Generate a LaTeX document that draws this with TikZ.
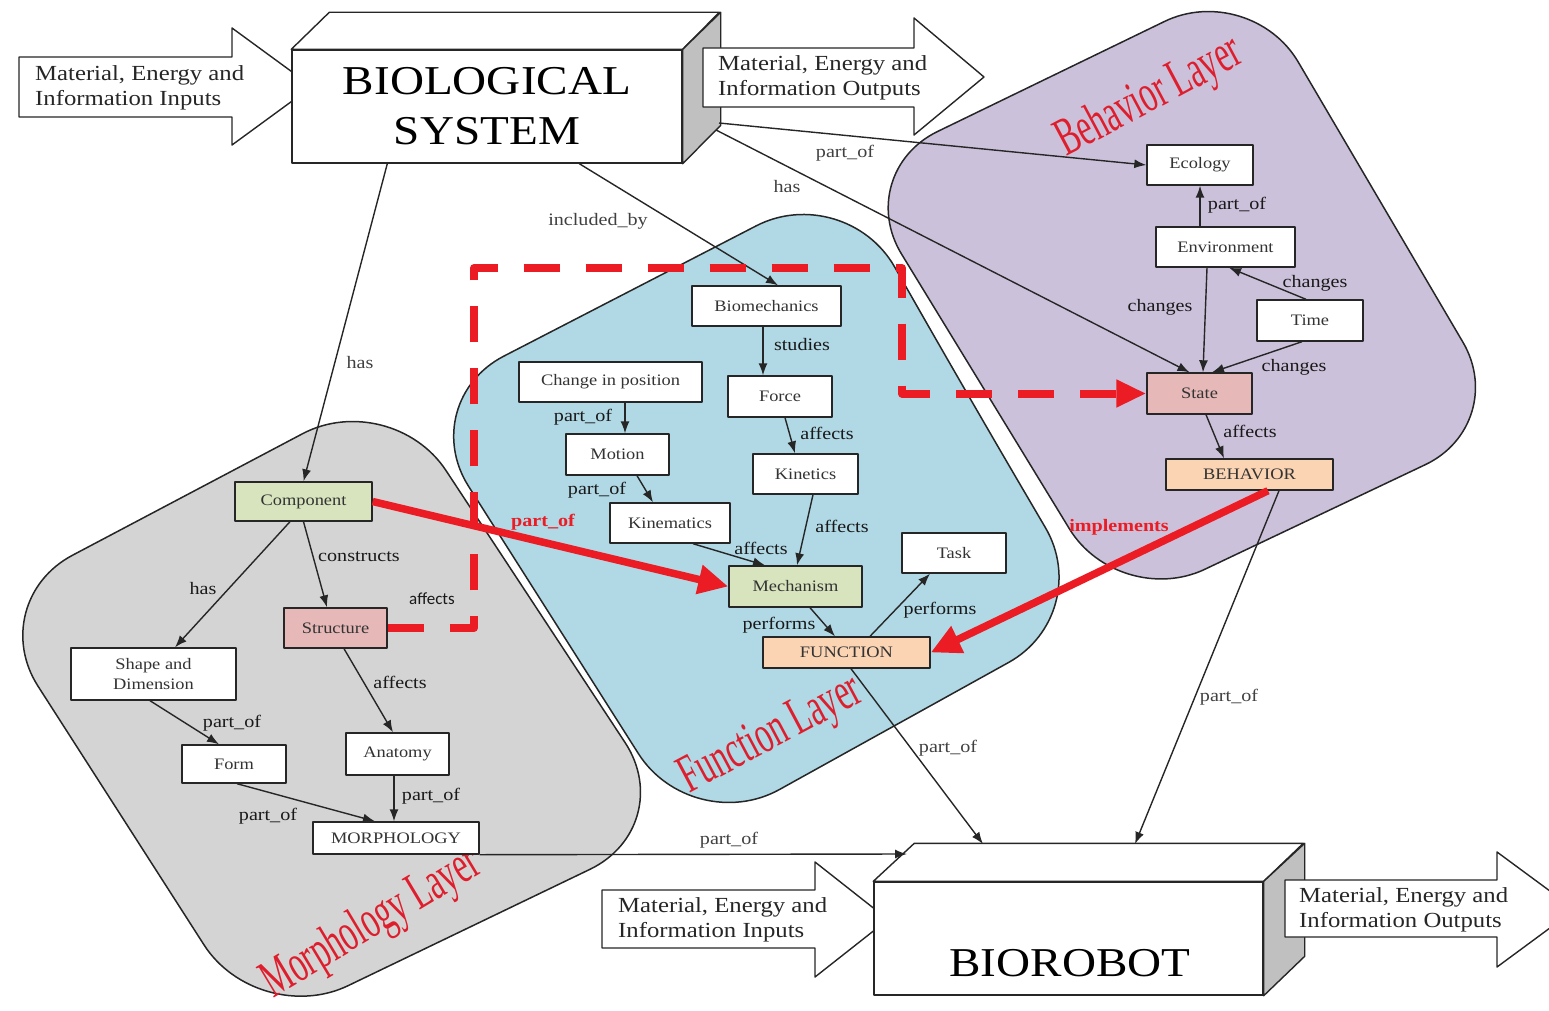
\documentclass[tikz,border=0pt]{standalone}
\usepackage{fontspec}
\setmainfont{Liberation Serif}[FakeStretch=1.15]
\newfontfamily\layerfont{Liberation Serif}
\newfontfamily\calibrifont{Carlito}
\usetikzlibrary{arrows.meta}

\definecolor{laygray}{RGB}{212,212,212}
\definecolor{layblue}{RGB}{176,216,229}
\definecolor{laypurple}{RGB}{204,193,218}
\definecolor{fillgreen}{RGB}{215,228,189}
\definecolor{fillpink}{RGB}{230,185,184}
\definecolor{fillpeach}{RGB}{251,212,180}
\definecolor{redc}{RGB}{236,28,36}
\definecolor{laylbl}{RGB}{222,30,45}
\definecolor{sidegray}{RGB}{192,192,192}

% condensed red caption of a layer
\newcommand{\layercaption}[1]{\scalebox{0.6}[1]{#1}}

\begin{document}
\begin{tikzpicture}[x=1pt,y=-1pt,line join=round,
  layer/.style={draw=black!85,line width=1.5pt},
  box/.style={draw=black!85,line width=1.4pt,fill=white,inner sep=0pt,
    font=\fontsize{16}{20}\selectfont,text=black!80,align=center},
  lbl/.style={font=\fontsize{17.5}{20}\selectfont,text=black!90,inner sep=1pt},
  olbl/.style={lbl,text=black!75},
  redlbl/.style={font=\bfseries\fontsize{17.5}{20}\selectfont,text=redc,inner sep=1pt},
  arr/.style={draw=black!85,line width=1.4pt,-{Latex[length=12pt,width=9pt]}},
  redarr/.style={draw=redc,line width=7.5pt,-{Triangle[length=30pt,width=28pt]}},
  reddash/.style={draw=redc,line width=8pt,dash pattern=on 36pt off 26pt,
    -{Triangle[length=30pt,width=26pt]}},
  blockarrow/.style={draw=black!85,line width=1.4pt,fill=white},
  blocktext/.style={font=\fontsize{21.5}{25}\selectfont,align=left,anchor=west,
    inner sep=0pt,text=black!85},
  bigbox/.style={draw=black!85,line width=1.4pt,fill=white,inner sep=0pt},
  sideface/.style={draw=black!85,line width=1.4pt,fill=sidegray},
  layerlbl/.style={font=\layerfont\fontsize{54}{54}\selectfont,text=laylbl,inner sep=0pt}
]
\useasboundingbox (0,0) rectangle (1549,1011);

% ---------------- layers ----------------
\draw[layer,fill=laygray,rounded corners=100pt]
  (535.5,606.5) -- (391,387) -- (-16,602) -- (258,1029) -- (680,826) -- cycle;
\draw[layer,fill=layblue,rounded corners=100pt]
  (970,399) -- (845,180) -- (415,402) -- (692,838) -- (1096,614) -- cycle;
\draw[layer,fill=laypurple,rounded corners=95pt]
  (1380.5,202) -- (1250,-20) -- (852,173) -- (1119,610) -- (1511,424) -- cycle;

\node[layerlbl,rotate=31] (morphLayer) at (372,924) {\layercaption{Morphology Layer}};
\node[layerlbl,rotate=28] (funLayer) at (772,736) {\layercaption{Function Layer}};
\node[layerlbl,rotate=28] (behLayer) at (1150,98) {\layercaption{Behavior Layer}};

% ---------------- biological system ----------------
\draw[blockarrow] (19,57) -- (232,57) -- (232,28) -- (312,86.5) -- (232,145)
  -- (232,117) -- (19,117) -- cycle;
\node[blocktext] (inBioText) at (35,88) {Material, Energy and\\Information Inputs};

\node[bigbox,minimum width=390pt,minimum height=113pt,
  font=\fontsize{41}{50}\selectfont,align=center] (bio) at (487,106.5)
  {BIOLOGICAL\\SYSTEM};
\draw[bigbox] (bio.north west) -- ++(38,-37) -- ++(390,0) -- (bio.north east) -- cycle;
\draw[sideface] (bio.north east) -- ++(38,-37) -- ++(0,113) -- (bio.south east) -- cycle;

\draw[blockarrow] (703,48) -- (914,48) -- (914,18) -- (984,77) -- (914,135)
  -- (914,107) -- (703,107) -- cycle;
\node[blocktext] (outBioText) at (718,78) {Material, Energy and\\Information Outputs};

% ---------------- biorobot ----------------
\draw[blockarrow] (602,890) -- (815,890) -- (815,862) -- (888,919.5) -- (815,977)
  -- (815,948) -- (602,948) -- cycle;
\node[blocktext] (inRobText) at (618,920) {Material, Energy and\\Information Inputs};

\node[bigbox,minimum width=389pt,minimum height=113pt] (robot) at (1068.5,938.5) {};
\draw[bigbox] (robot.north west) -- ++(41,-38) -- ++(389,0) -- (robot.north east) -- cycle;
\draw[sideface] (robot.north east) -- ++(41,-38) -- ++(0,113) -- (robot.south east) -- cycle;
\node[font=\fontsize{41}{50}\selectfont,inner sep=0pt] (robotText) at (1070,963) {BIOROBOT};

\draw[blockarrow] (1285,880) -- (1497,880) -- (1497,852) -- (1575,909.5) -- (1497,967)
  -- (1497,937) -- (1285,937) -- cycle;
\node[blocktext] (outRobText) at (1299,910) {Material, Energy and\\Information Outputs};

% ---------------- behavior layer nodes ----------------
\node[box,minimum width=106pt,minimum height=40pt] (eco) at (1200,165) {Ecology};
\node[box,minimum width=139pt,minimum height=40pt] (env) at (1225.5,247) {Environment};
\node[box,minimum width=106pt,minimum height=41pt] (time) at (1310,320.5) {Time};
\node[box,fill=fillpink,minimum width=105pt,minimum height=41pt] (state) at (1199.5,393.5) {State};
\node[box,fill=fillpeach,minimum width=167pt,minimum height=31pt] (behav) at (1249.5,474.5) {BEHAVIOR};

% ---------------- function layer nodes ----------------
\node[box,minimum width=149pt,minimum height=40pt] (biomech) at (766.5,306) {Biomechanics};
\node[box,minimum width=183pt,minimum height=40pt] (change) at (610.5,382) {Change in position};
\node[box,minimum width=104pt,minimum height=41pt] (force) at (780,396.5) {Force};
\node[box,minimum width=103pt,minimum height=41pt] (motion) at (617.5,454.5) {Motion};
\node[box,minimum width=105pt,minimum height=40pt] (kinetics) at (805.5,474) {Kinetics};
\node[box,minimum width=120pt,minimum height=40pt] (kinem) at (670,523) {Kinematics};
\node[box,fill=fillgreen,minimum width=133pt,minimum height=41pt] (mech) at (795.5,586.5) {Mechanism};
\node[box,minimum width=104pt,minimum height=40pt] (task) at (954,553) {Task};
\node[box,fill=fillpeach,minimum width=167pt,minimum height=31pt] (func) at (846.5,652.5) {FUNCTION};

% ---------------- morphology layer nodes ----------------
\node[box,fill=fillgreen,minimum width=137pt,minimum height=39pt] (comp) at (303.5,501.5) {Component};
\node[box,fill=fillpink,minimum width=103pt,minimum height=40pt] (struct) at (335.5,628) {Structure};
\node[box,minimum width=165pt,minimum height=52pt] (shape) at (153.5,674) {Shape and\\Dimension};
\node[box,minimum width=104pt,minimum height=38pt] (form) at (234,764) {Form};
\node[box,minimum width=103pt,minimum height=42pt] (anat) at (397.5,754) {Anatomy};
\node[box,minimum width=166pt,minimum height=32pt] (morph) at (396,838) {MORPHOLOGY};

% attachment points on the 3D boxes
\coordinate (bioSideA) at (719,123);
\coordinate (bioSideB) at (716,130);
\coordinate (robTopA) at (983,844);
\coordinate (robTopB) at (1135,844);
\coordinate (robEdge) at (907,854);

% ---------------- connectors ----------------
\draw[arr] ([xshift=96pt]bio.south west) -- (comp.north);
\draw[arr] ([xshift=288pt]bio.south west) -- ([xshift=11.5pt]biomech.north);
\draw[arr] (bioSideA) -- (eco.west);
\draw[arr] (bioSideB) -- ([xshift=-10pt]state.north);

\draw[arr] (env.north -| eco.south) -- (eco.south);
\draw[arr] ([xshift=-18.5pt]env.south) -- ([xshift=3.5pt]state.north);
\draw[arr] ([xshift=-4pt]time.north) -- ([xshift=3.5pt]env.south);
\draw[arr] ([xshift=-8pt]time.south) -- ([xshift=12.5pt]state.north);
\draw[arr] ([xshift=6.5pt]state.south) -- ([xshift=-25.5pt]behav.north);
\draw[arr] ([xshift=29.5pt]behav.south) -- (robTopB);

\draw[arr] ([xshift=-3.5pt]biomech.south) -- ([xshift=-3.5pt]biomech.south |- force.north);
\draw[arr] ([xshift=14.5pt]change.south) -- ([xshift=14.5pt]change.south |- motion.north);
\draw[arr] ([xshift=5pt]force.south) -- ([xshift=-10.5pt]kinetics.north);
\draw[arr] ([xshift=19.5pt]motion.south) -- ([xshift=-17pt]kinem.north);
\draw[arr] ([xshift=23pt]kinem.south) -- ([xshift=-30.5pt]mech.north);
\draw[arr] ([xshift=7.5pt]kinetics.south) -- ([xshift=1.5pt]mech.north);
\draw[arr] ([xshift=14.5pt]mech.south) -- ([xshift=-11.5pt]func.north);
\draw[arr] ([xshift=23.5pt]func.north) -- ([xshift=-24pt]task.south);
\draw[arr] ([xshift=4.5pt]func.south) -- (robTopA);

\draw[arr] ([xshift=-13.5pt]comp.south) -- ([xshift=21.5pt]shape.north);
\draw[arr] (comp.south) -- ([xshift=-8.5pt]struct.north);
\draw[arr] ([xshift=8.5pt]struct.south) -- ([xshift=-4.5pt]anat.north);
\draw[arr] ([xshift=-3.5pt]shape.south) -- ([xshift=-15pt]form.north);
\draw[arr] ([xshift=3pt]form.south) -- ([xshift=-21pt]morph.north);
\draw[arr] ([xshift=-3.5pt]anat.south) -- ([xshift=-3.5pt]anat.south |- morph.north);
\draw[arr] (morph.south east) -- (robEdge);

% red relations
\draw[reddash] (struct.east) -- (474,628) -- (474,268) -- (902,268) |- (state.west);
\draw[redarr] (comp.east) -- (mech.west);
\draw[redarr] ([xshift=18.5pt]behav.south) -- (func.east);

% ---------------- labels ----------------
\node[olbl] (lHasComp) at (360,363) {has};
\node[olbl] (lIncl) at (598,221) {included\_by};
\node[olbl] (lPartEco) at (845,153) {part\_of};
\node[olbl] (lHasState) at (787,187) {has};
\node[lbl] (lPartEnv) at (1237,205) {part\_of};
\node[lbl] (lChg1) at (1160,307) {changes};
\node[lbl] (lChg2) at (1315,283) {changes};
\node[lbl] (lChg3) at (1294,367) {changes};
\node[lbl] (lAffBeh) at (1250,431) {affects};
\node[redlbl] (lImpl) at (1119,527) {implements};
\node[olbl] (lPartBeh) at (1229,697) {part\_of};
\node[lbl] (lStudies) at (802,345) {studies};
\node[lbl] (lPartCh) at (583,417) {part\_of};
\node[lbl] (lAffForce) at (827,433) {affects};
\node[lbl] (lPartMo) at (597,490) {part\_of};
\node[lbl] (lAffKin) at (842,526) {affects};
\node[lbl] (lAffKm) at (761,548) {affects};
\node[redlbl] (lPartRed) at (543,522) {part\_of};
\node[lbl] (lPerf1) at (779,625) {performs};
\node[lbl] (lPerf2) at (940,610) {performs};
\node[olbl] (lPartFun) at (948,748) {part\_of};
\node[lbl] (lHasShape) at (203,589) {has};
\node[lbl] (lCons) at (359,557) {constructs};
\node[lbl,font=\calibrifont\fontsize{17}{20}\selectfont] (lAffDash) at (432,599) {affects};
\node[lbl] (lAffStr) at (400,682) {affects};
\node[lbl] (lPartSh) at (232,723) {part\_of};
\node[lbl] (lPartAn) at (431,796) {part\_of};
\node[lbl] (lPartFo) at (268,816) {part\_of};
\node[olbl] (lPartMor) at (729,840) {part\_of};
\end{tikzpicture}
\end{document}
